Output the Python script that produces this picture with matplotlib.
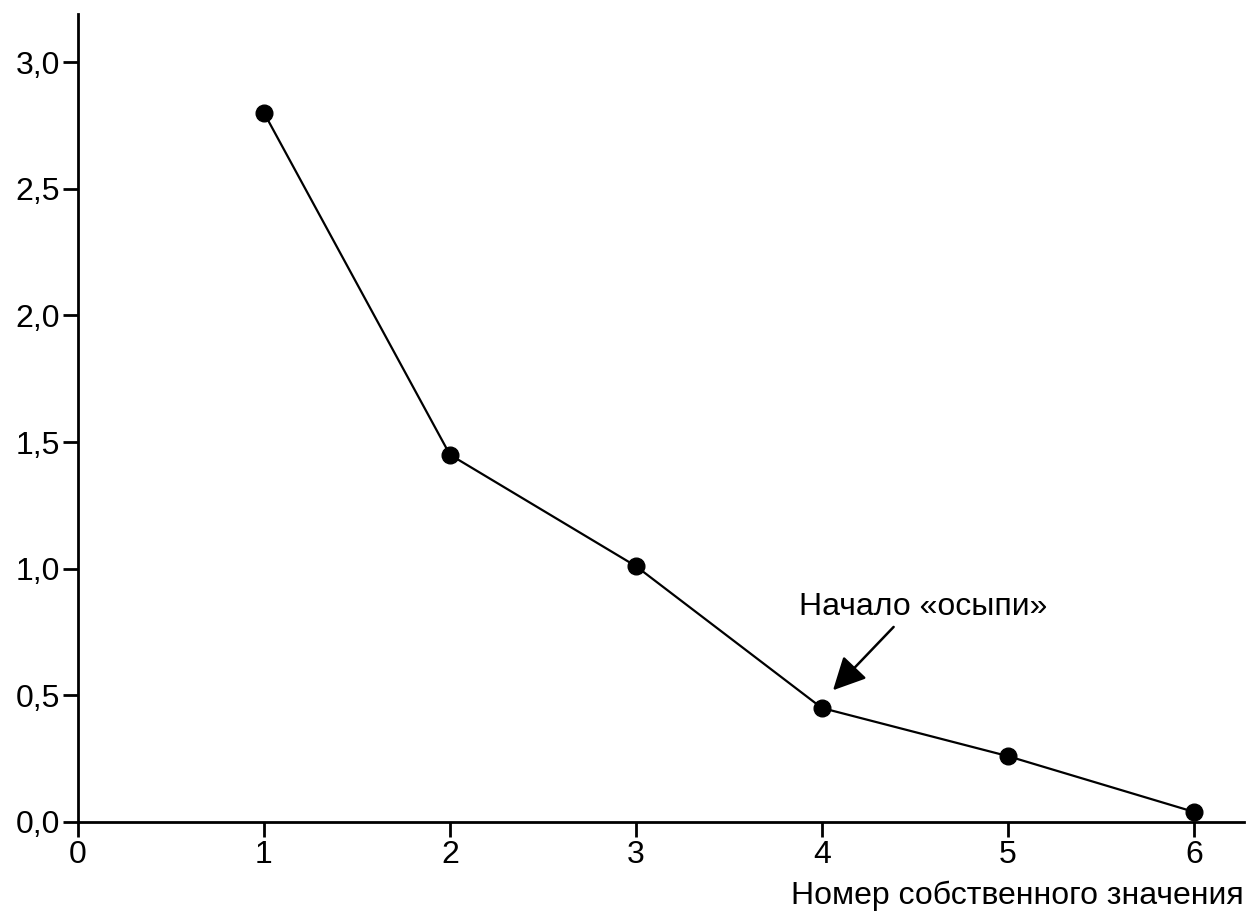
import matplotlib.pyplot as plt

plt.rcParams["font.family"] = ["Liberation Sans", "DejaVu Sans"]

# eigenvalue number and eigenvalue
components = [1, 2, 3, 4, 5, 6]
eigenvalues = [2.80, 1.45, 1.01, 0.45, 0.26, 0.04]
x_ticks = [0, 1, 2, 3, 4, 5, 6]
y_ticks = [0.0, 0.5, 1.0, 1.5, 2.0, 2.5, 3.0]
y_labels = ["0,0", "0,5", "1,0", "1,5", "2,0", "2,5", "3,0"]

fig = plt.figure(figsize=(12.52, 9.14), dpi=100)
ax = fig.add_axes([0.0623, 0.1007, 0.9313, 0.884])

ax.plot(components, eigenvalues, color="black", linewidth=1.6,
        marker="o", markersize=12, clip_on=False, zorder=3)

ax.set_xlim(0, 6.27)
ax.set_ylim(0, 3.19)
ax.set_xticks(x_ticks)
ax.set_yticks(y_ticks)
ax.set_yticklabels(y_labels)

for side in ["top", "right"]:
    ax.spines[side].set_visible(False)
for side in ["left", "bottom"]:
    ax.spines[side].set_linewidth(2)

ax.tick_params(axis="both", direction="out", length=11, width=2,
               labelsize=23, pad=2, colors="black")

ax.set_xlabel("Номер собственного значения", fontsize=23,
              ha="right", va="baseline")
ax.xaxis.set_label_coords(1.0, -0.101)

ax.annotate("Начало «осыпи»", xy=(4.063, 0.52), xytext=(3.875, 0.85),
            fontsize=23, va="center", ha="left", xycoords="data",
            textcoords="data")
ax.annotate("", xy=(4.06, 0.52), xytext=(4.386, 0.77),
            arrowprops=dict(arrowstyle="-|>,head_length=0.5,head_width=0.25",
                            color="black", lw=1.8, mutation_scale=40,
                            shrinkA=0, shrinkB=0))

fig.savefig("out.png", dpi=100)
